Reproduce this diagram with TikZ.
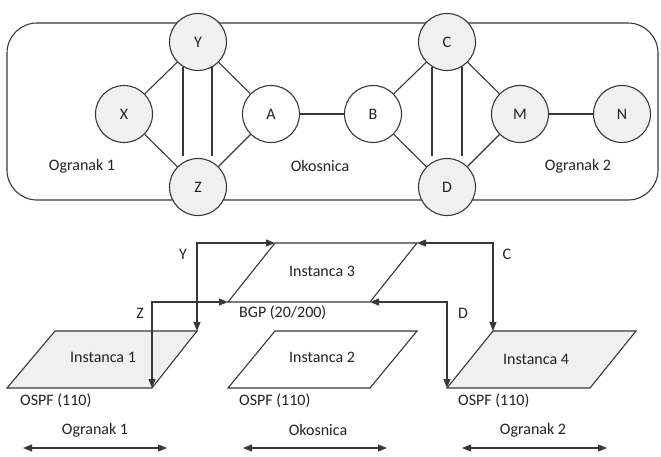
\documentclass[tikz,border=0pt]{standalone}
\usepackage{fontspec}
\setmainfont{Carlito}
\usetikzlibrary{arrows.meta}
\definecolor{ln}{HTML}{383838}
\definecolor{tx}{HTML}{222222}
\definecolor{lg}{HTML}{F0F0F0}
\tikzset{
  router/.style={circle,draw=ln,line width=1.1pt,minimum size=57pt,inner sep=0pt,text=tx,font=\fontsize{16}{19}\selectfont},
  grey/.style={fill=lg},
  white/.style={fill=white},
  link/.style={draw=ln,line width=1.1pt},
  inst/.style={draw=ln,line width=1.1pt},
  lbl/.style={text=tx,font=\fontsize{16}{19}\selectfont,inner sep=0pt},
  conn/.style={draw=ln,line width=1.1pt,{Triangle[length=9pt,width=7pt]}-{Triangle[length=9pt,width=7pt]}},
}
\begin{document}
\begin{tikzpicture}[x=1pt,y=-1pt]
\useasboundingbox (0,0) rectangle (661,456);
% container
\draw[link,rounded corners=30pt] (7,23) rectangle (658,200);
% parallel lines
\draw[link] (183,67) -- (183,156);
\draw[link] (212,67) -- (212,156);
\draw[link] (432,67) -- (432,156);
\draw[link] (462,67) -- (462,156);
% routers
\node[router,grey] (Y) at (198,42) {Y};
\node[router,grey] (Z) at (198,187) {Z};
\node[router,grey] (X) at (124,114) {X};
\node[router,white] (A) at (271,114) {A};
\node[router,white] (B) at (373,114) {B};
\node[router,grey] (C) at (447,42) {C};
\node[router,grey] (D) at (447,187) {D};
\node[router,grey] (M) at (520,114) {M};
\node[router,grey] (N) at (622,114) {N};
\draw[link] (X) -- (Y); \draw[link] (X) -- (Z);
\draw[link] (Y) -- (A); \draw[link] (Z) -- (A);
\draw[link] (A) -- (B);
\draw[link] (B) -- (C); \draw[link] (B) -- (D);
\draw[link] (C) -- (M); \draw[link] (D) -- (M);
\draw[link] (M) -- (N);
\node[lbl] (o1) at (82,166) {Ogranak 1};
\node[lbl] (ok) at (320,166) {Okosnica};
\node[lbl] (o2) at (578,166) {Ogranak 2};
% instances
\coordinate (i1tl) at (55,331); \coordinate (i1tr) at (197,331);
\coordinate (i1br) at (152,388); \coordinate (i1bl) at (7,388);
\coordinate (i2tl) at (275,331); \coordinate (i2tr) at (417,331);
\coordinate (i2br) at (370,388); \coordinate (i2bl) at (228,388);
\coordinate (i3tl) at (275,243); \coordinate (i3tr) at (417,243);
\coordinate (i3br) at (370,302); \coordinate (i3bl) at (228,302);
\coordinate (i4tl) at (493,331); \coordinate (i4tr) at (636,331);
\coordinate (i4br) at (590,388); \coordinate (i4bl) at (447,388);
\draw[inst,fill=lg] (i1tl) -- (i1tr) -- (i1br) -- (i1bl) -- cycle;
\draw[inst,fill=white] (i2tl) -- (i2tr) -- (i2br) -- (i2bl) -- cycle;
\draw[inst,fill=white] (i3tl) -- (i3tr) -- (i3br) -- (i3bl) -- cycle;
\draw[inst,fill=lg] (i4tl) -- (i4tr) -- (i4br) -- (i4bl) -- cycle;
\node[lbl] (t1) at (103,357) {Instanca 1};
\node[lbl] (t2) at (322,357) {Instanca 2};
\node[lbl] (t3) at (322,271) {Instanca 3};
\node[lbl] (t4) at (536,359) {Instanca 4};
\node[lbl,anchor=west] (bgp) at (239,313) {BGP (20/200)};
\node[lbl,anchor=west] (os1) at (20,401) {OSPF (110)};
\node[lbl,anchor=west] (os2) at (239,401) {OSPF (110)};
\node[lbl,anchor=west] (os4) at (458,401) {OSPF (110)};
% connectors
\draw[conn] (i1tr) |- (i3tl);
\draw[conn] (i1br) |- (i3bl);
\draw[conn] (i3tr) -| (i4tl);
\draw[conn] (i3br) -| (i4bl);
\node[lbl] (ly) at (183,254) {Y};
\node[lbl] (lz) at (140,313) {Z};
\node[lbl] (lc) at (507,254) {C};
\node[lbl] (ld) at (463,313) {D};
% bottom scope arrows
\node[lbl] (b1) at (95,430) {Ogranak 1};
\node[lbl] (b2) at (318,430) {Okosnica};
\node[lbl] (b3) at (533,430) {Ogranak 2};
\coordinate (a1l) at (23,448); \coordinate (a1r) at (167,448);
\coordinate (a2l) at (243,448); \coordinate (a2r) at (387,448);
\coordinate (a3l) at (462,448); \coordinate (a3r) at (607,448);
\draw[conn] (a1l) -- (a1r);
\draw[conn] (a2l) -- (a2r);
\draw[conn] (a3l) -- (a3r);
\end{tikzpicture}
\end{document}
